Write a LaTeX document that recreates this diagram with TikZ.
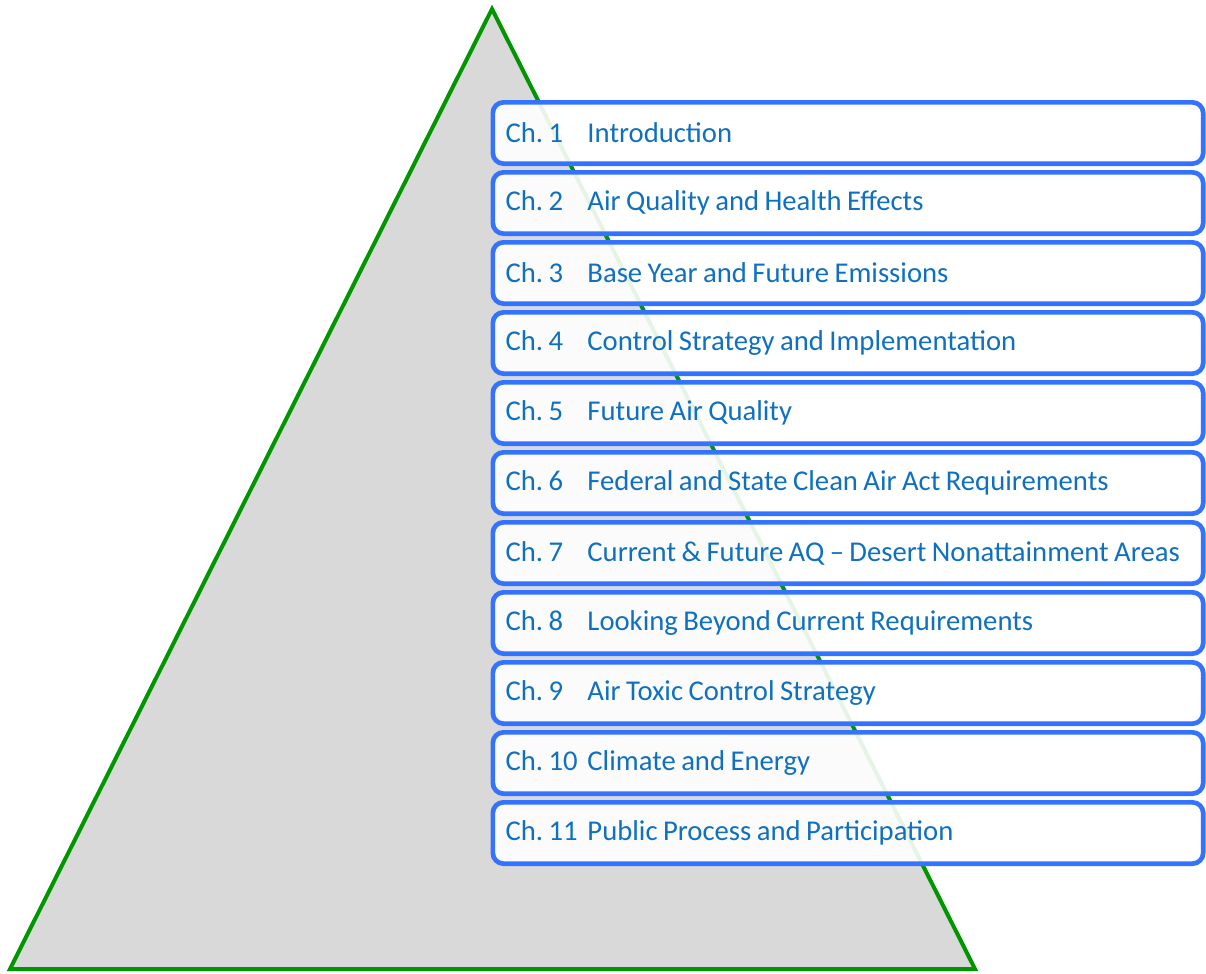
\documentclass[tikz,border=0pt]{standalone}
\usepackage{fontspec}
\setmainfont{Carlito}
\usetikzlibrary{positioning}

\definecolor{chapblue}{RGB}{51,115,255}
\definecolor{chaptext}{RGB}{16,112,192}
\definecolor{pyrgreen}{RGB}{0,150,0}
\definecolor{pyrgray}{RGB}{217,217,217}

\newcommand{\chapfont}{\fontsize{21.5}{24}\selectfont\fontdimen2\font=0.19em\relax}
\newcommand{\chapline}[2]{\makebox[513.75pt][l]{\makebox[61.5pt][l]{#1}#2}}

\begin{document}
\begin{tikzpicture}[x=0.75pt,y=-0.75pt]
\tikzstyle{chapbox}=[draw=chapblue, line width=3.5pt, rounded corners=8pt, fill=white, fill opacity=0.9, text opacity=1, text=chaptext, minimum width=532.7pt, minimum height=46pt, inner xsep=9.5pt, font=\chapfont]
    \useasboundingbox (0,0) rectangle (1206,974);
    % pyramid
    \coordinate (apex) at (492,9);
    \coordinate (bl) at (10,969);
    \coordinate (br) at (975,969);
    \draw[pyrgreen, fill=pyrgray, line width=3pt] (apex) -- (br) -- (bl) -- cycle;
    % chapter boxes
    \node[chapbox] (ch1) at (848,133) {\chapline{Ch.~1}{Introduction}};
    \node[chapbox] (ch2) at (848,203) {\chapline{Ch.~2}{Air Quality and Health Effects}};
    \node[chapbox] (ch3) at (848,273) {\chapline{Ch.~3}{Base Year and Future Emissions}};
    \node[chapbox] (ch4) at (848,343) {\chapline{Ch.~4}{Control Strategy and Implementation}};
    \node[chapbox] (ch5) at (848,413) {\chapline{Ch.~5}{Future Air Quality}};
    \node[chapbox] (ch6) at (848,483) {\chapline{Ch.~6}{Federal and State Clean Air Act Requirements}};
    \node[chapbox] (ch7) at (848,553) {\chapline{Ch.~7}{Current \& Future AQ -- Desert Nonattainment Areas}};
    \node[chapbox] (ch8) at (848,623) {\chapline{Ch.~8}{Looking Beyond Current Requirements}};
    \node[chapbox] (ch9) at (848,693) {\chapline{Ch.~9}{Air Toxic Control Strategy}};
    \node[chapbox] (ch10) at (848,763) {\chapline{Ch.~10}{Climate and Energy}};
    \node[chapbox] (ch11) at (848,833) {\chapline{Ch.~11}{Public Process and Participation}};
\end{tikzpicture}
\end{document}
